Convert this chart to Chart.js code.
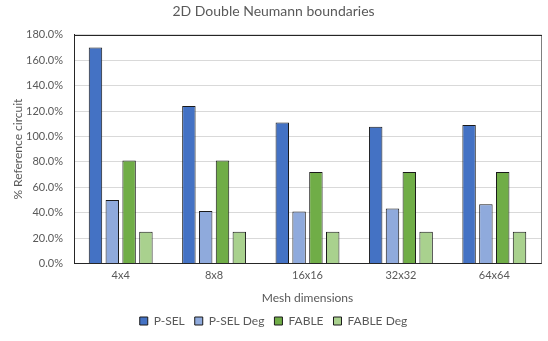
<!DOCTYPE html>
<html>
<head>
<meta charset="utf-8">
<script src="https://cdn.jsdelivr.net/npm/chart.js@4/dist/chart.umd.min.js"></script>
<style>
html,body{margin:0;padding:0;background:#fff;}
#wrap{position:relative;width:548px;height:341px;}
</style>
</head>
<body>
<div id="wrap"><canvas id="c" width="548" height="341"></canvas></div>
<script>
const categories = ["4x4", "8x8", "16x16", "32x32", "64x64"];
const pselValues = [170, 124, 111, 107.6, 109];
const pselDegValues = [50, 41.3, 40.8, 43.2, 46.6];
const fableValues = [81, 81, 72, 72, 72];
const fableDegValues = [25, 25, 25, 25, 25];
const seriesNames = ["P-SEL", "P-SEL Deg", "FABLE", "FABLE Deg"];
const seriesColors = ["#4472C4", "#8FAADC", "#70AD47", "#A9D18E"];
const titleText = "2D Double Neumann boundaries";
const yTitle = "% Reference circuit";
const xTitle = "Mesh dimensions";

const FONT = "Lato, 'Open Sans', sans-serif";
const TXT = "#595959";

const borderPlugin = {
  id: 'plotBorder',
  afterDraw(chart) {
    const a = chart.chartArea, ctx = chart.ctx;
    ctx.save();
    ctx.lineWidth = 1;
    ctx.strokeStyle = "#7f7f7f";
    ctx.beginPath();
    ctx.moveTo(Math.round(a.right) + 0.5, a.top);
    ctx.lineTo(Math.round(a.right) + 0.5, a.bottom);
    ctx.stroke();
    ctx.strokeStyle = "#262626";
    ctx.beginPath();
    ctx.moveTo(a.left, Math.round(a.top) + 0.5);
    ctx.lineTo(a.right + 1, Math.round(a.top) + 0.5);
    ctx.stroke();
    ctx.restore();
  }
};

const datasets = [pselValues, pselDegValues, fableValues, fableDegValues].map((v, i) => ({
  label: seriesNames[i],
  data: v,
  backgroundColor: seriesColors[i],
  borderColor: "#1a1a1a",
  borderWidth: 1,
  categoryPercentage: 0.72,
  barPercentage: 0.8
}));

new Chart(document.getElementById('c'), {
  type: 'bar',
  data: { labels: categories, datasets },
  options: {
    responsive: false,
    animation: false,
    devicePixelRatio: 1,
    layout: { padding: { left: 6, right: 7, top: 2, bottom: 4 } },
    plugins: {
      title: {
        display: true, text: titleText, color: TXT,
        font: { family: FONT, size: 14, weight: 'normal' },
        padding: { top: 1, bottom: 15 }
      },
      legend: {
        position: 'bottom',
        labels: {
          color: TXT, boxWidth: 8, boxHeight: 8, padding: 10,
          font: { family: FONT, size: 12 }
        }
      },
      tooltip: { enabled: false }
    },
    scales: {
      x: {
        grid: { display: false, drawTicks: false },
        border: { display: true, color: "#262626", width: 1 },
        ticks: { color: TXT, font: { family: FONT, size: 11 }, padding: 5 },
        title: { display: true, text: xTitle, color: TXT, font: { family: FONT, size: 12 }, padding: { top: 4, bottom: 0 } }
      },
      y: {
        min: 0, max: 180,
        afterFit: s => { s.width = 68; },
        grid: { color: "#d9d9d9", drawTicks: false },
        border: { display: true, color: "#262626", width: 1 },
        ticks: {
          stepSize: 20, color: TXT, padding: 11,
          font: { family: FONT, size: 11 },
          callback: v => v.toFixed(1) + "%"
        },
        title: { display: true, text: yTitle, color: TXT, font: { family: FONT, size: 12 }, padding: { top: 5, bottom: 0 } }
      }
    }
  },
  plugins: [borderPlugin]
});
</script>
</body>
</html>
